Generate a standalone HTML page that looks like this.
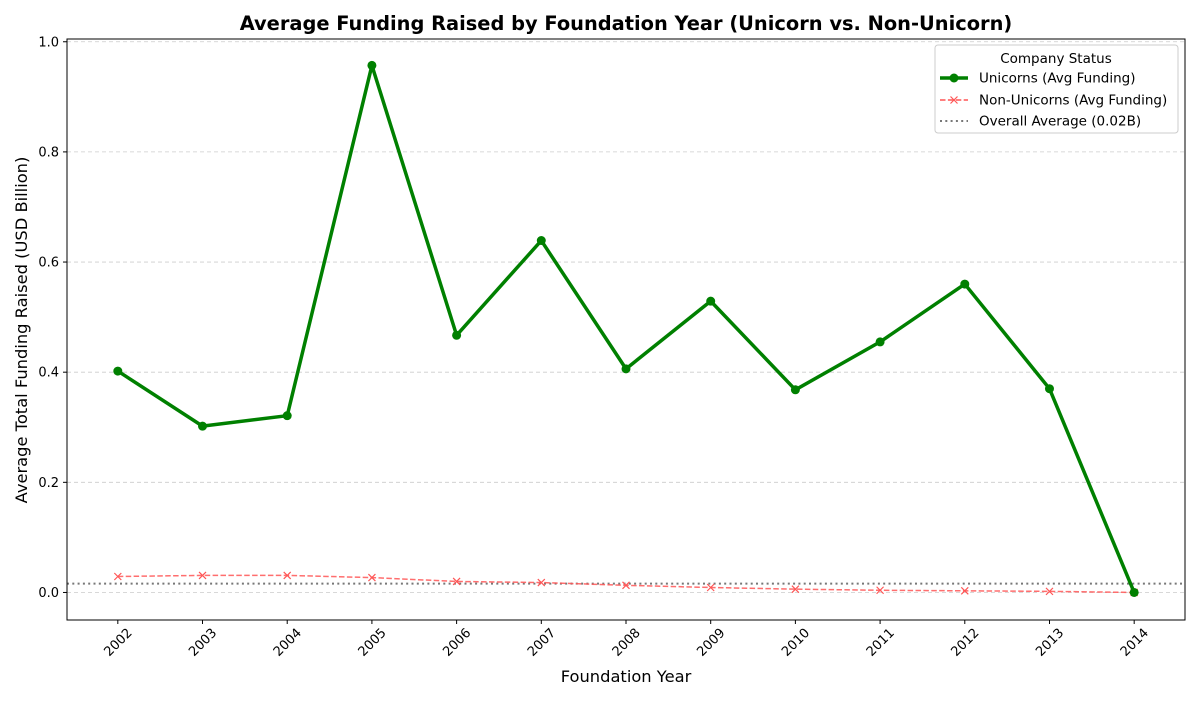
<!DOCTYPE html>
<html><head><meta charset="utf-8"><style>
body{margin:0;background:#fff;font-family:"Liberation Sans","DejaVu Sans",sans-serif}
</style></head><body>
<svg id="chart" width="1200" height="700" xmlns="http://www.w3.org/2000/svg" font-family="DejaVu Sans, Liberation Sans, sans-serif"></svg>
<script>
const years=[2002,2003,2004,2005,2006,2007,2008,2009,2010,2011,2012,2013,2014];
const unicornValues=[0.402,0.302,0.321,0.957,0.467,0.639,0.406,0.529,0.368,0.455,0.560,0.370,0.0];
const nonUnicornValues=[0.029,0.031,0.031,0.027,0.020,0.018,0.013,0.009,0.006,0.004,0.003,0.002,0.0];
const overallAverage=0.016;
const yTicks=[0.0,0.2,0.4,0.6,0.8,1.0];
const yTickLabels=["0.0","0.2","0.4","0.6","0.8","1.0"];

const L=67,R=1185,T=39,B=620;
const xMin=2001.4,xMax=2014.6,yMin=-0.05,yMax=1.005;
const X=v=>L+(v-xMin)/(xMax-xMin)*(R-L);
const Y=v=>B-(v-yMin)/(yMax-yMin)*(B-T);
const svg=document.getElementById('chart');
const NS='http://www.w3.org/2000/svg';
function mk(tag,attrs,parent){const e=document.createElementNS(NS,tag);for(const k in attrs)e.setAttribute(k,attrs[k]);(parent||svg).appendChild(e);return e;}

yTicks.forEach((t,i)=>{
  const g=mk('line',{x1:L,x2:R,y1:Y(t),y2:Y(t),stroke:'#ccc','stroke-dasharray':'4,3','stroke-width':0.8});
  
  
  const tk=mk('line',{x1:L-4,x2:L,y1:Y(t),y2:Y(t),stroke:'#000'});
  
  
  const tx=mk('text',{x:L-8,y:Y(t)+4.5,'text-anchor':'end','font-size':13});
  tx.textContent=yTickLabels[i];
  
  
});
years.forEach(yr=>{
  const tk=mk('line',{x1:X(yr),x2:X(yr),y1:B,y2:B+4,stroke:'#000'});
  
  
  const cx=X(yr),cy=B+22;
  const tx=mk('text',{x:cx,y:cy+4.5,'text-anchor':'middle','font-size':13,transform:`rotate(-45 ${cx} ${cy})`});
  tx.textContent=yr;
  
  
});

const av=mk('line',{x1:L,x2:R,y1:Y(overallAverage),y2:Y(overallAverage),stroke:'#777','stroke-width':2,'stroke-dasharray':'2,3.3'});



const nPts=years.map((y,i)=>X(y)+','+Y(nonUnicornValues[i])).join(' ');
const nl=mk('polyline',{points:nPts,fill:'none',stroke:'#ff5555','stroke-opacity':0.85,'stroke-width':1.5,'stroke-dasharray':'5.5,2.4'});


years.forEach((y,i)=>{
  const cx=X(y),cy=Y(nonUnicornValues[i]);
  const m=mk('path',{d:`M${cx-3.5},${cy-3.5}L${cx+3.5},${cy+3.5}M${cx-3.5},${cy+3.5}L${cx+3.5},${cy-3.5}`,stroke:'#ff5555','stroke-width':1.2});
  
  
});

const uPts=years.map((y,i)=>X(y)+','+Y(unicornValues[i])).join(' ');
const ul=mk('polyline',{points:uPts,fill:'none',stroke:'#008000','stroke-width':3.5,'stroke-linejoin':'round'});


years.forEach((y,i)=>{
  const c=mk('circle',{cx:X(y),cy:Y(unicornValues[i]),r:4.5,fill:'#008000'});
  
  
});

const fr=mk('rect',{x:L,y:T,width:R-L,height:B-T,fill:'none',stroke:'#000','stroke-width':1});



const tt=mk('text',{x:626,y:30,'text-anchor':'middle','font-size':19.4,'font-weight':'bold'});
tt.textContent='Average Funding Raised by Foundation Year (Unicorn vs. Non-Unicorn)';


const xt=mk('text',{x:626,y:682,'text-anchor':'middle','font-size':16.3});
xt.textContent='Foundation Year';


const yt=mk('text',{x:27,y:330,'text-anchor':'middle','font-size':16.3,transform:'rotate(-90 27 330)'});
yt.textContent='Average Total Funding Raised (USD Billion)';



const lg=mk('g',{});


mk('rect',{x:935,y:45,width:243,height:88,rx:3,fill:'#fff','fill-opacity':0.85,stroke:'#ccc'},lg);
const lt=mk('text',{x:1056,y:63,'text-anchor':'middle','font-size':13.5},lg);lt.textContent='Company Status';
const entries=[['Unicorns (Avg Funding)',78],['Non-Unicorns (Avg Funding)',100],['Overall Average (0.02B)',121]];
entries.forEach(([label,yy],i)=>{
  const g=mk('g',{},lg);
  
  
  if(i===0){mk('line',{x1:940,x2:968,y1:yy,y2:yy,stroke:'#008000','stroke-width':3.5},g);mk('circle',{cx:954,cy:yy,r:4.5,fill:'#008000'},g);}
  if(i===1){mk('line',{x1:940,x2:968,y1:yy,y2:yy,stroke:'#ff5555','stroke-width':1.5,'stroke-dasharray':'5.5,2.4'},g);mk('path',{d:`M950.5,${yy-3.5}L957.5,${yy+3.5}M950.5,${yy+3.5}L957.5,${yy-3.5}`,stroke:'#ff5555','stroke-width':1.2},g);}
  if(i===2){mk('line',{x1:940,x2:968,y1:yy,y2:yy,stroke:'#777','stroke-width':2,'stroke-dasharray':'2,3.3'},g);}
  const t=mk('text',{x:979,y:yy+4.5,'font-size':13.5},g);t.textContent=label;
});
</script>
</body></html>
